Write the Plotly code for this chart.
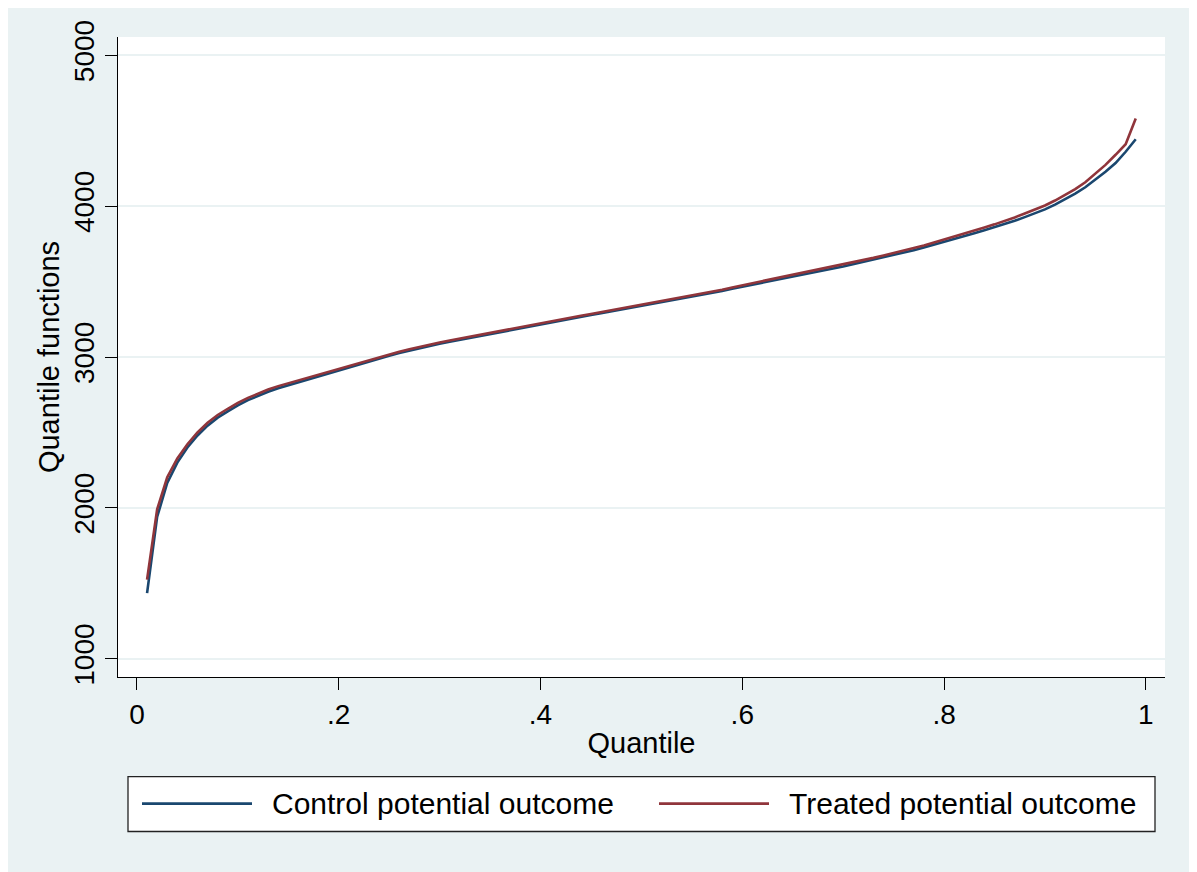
import plotly.graph_objects as go

quantiles = [round(0.01 * i, 2) for i in range(1, 100)]

control = [1435, 1940, 2165, 2300, 2400, 2480, 2545, 2598, 2640, 2680,
           2714, 2744, 2770, 2793, 2813, 2833, 2852, 2870, 2890, 2910,
           2930, 2950, 2970, 2990, 3008, 3026, 3042, 3058, 3074, 3088,
           3101, 3114, 3127, 3140, 3153, 3166, 3179, 3192, 3205, 3217,
           3229, 3242, 3254, 3266, 3278, 3290, 3302, 3315, 3328, 3341,
           3352, 3364, 3375, 3387, 3398, 3411, 3424, 3438, 3452, 3466,
           3479, 3492, 3505, 3518, 3531, 3545, 3559, 3573, 3587, 3600,
           3615, 3630, 3645, 3660, 3676, 3692, 3708, 3725, 3743, 3762,
           3781, 3800, 3820, 3840, 3860, 3880, 3903, 3927, 3950, 3978,
           4010, 4045, 4083, 4125, 4175, 4228, 4285, 4360, 4443]

treated = [1525, 1990, 2203, 2328, 2422, 2500, 2564, 2616, 2657, 2696,
           2729, 2759, 2784, 2807, 2826, 2846, 2864, 2882, 2902, 2921,
           2941, 2961, 2980, 3000, 3018, 3035, 3051, 3067, 3082, 3096,
           3109, 3122, 3134, 3147, 3160, 3173, 3186, 3199, 3212, 3224,
           3236, 3249, 3261, 3273, 3285, 3297, 3309, 3322, 3335, 3348,
           3359, 3372, 3383, 3395, 3406, 3419, 3432, 3446, 3461, 3475,
           3488, 3501, 3515, 3528, 3541, 3555, 3569, 3584, 3598, 3611,
           3627, 3642, 3657, 3673, 3689, 3705, 3722, 3739, 3758, 3777,
           3797, 3816, 3837, 3858, 3879, 3900, 3925, 3951, 3975, 4004,
           4037, 4073, 4113, 4158, 4213, 4273, 4340, 4410, 4581]

x_tickvals = [0, 0.2, 0.4, 0.6, 0.8, 1]
x_ticktext = ["0", ".2", ".4", ".6", ".8", "1"]
y_tickvals = [1000, 2000, 3000, 4000, 5000]
y_ticktext = ["1000", "2000", "3000", "4000", "5000"]
series_names = ["Control potential outcome", "Treated potential outcome"]

NAVY = "#1A476F"
MAROON = "#90353B"
BG = "#EAF2F3"
FONT = "Arial, Liberation Sans, sans-serif"

fig = go.Figure()
fig.add_trace(go.Scatter(x=quantiles, y=control, mode="lines", name=series_names[0],
                         line=dict(color=NAVY, width=2.6)))
fig.add_trace(go.Scatter(x=quantiles, y=treated, mode="lines", name=series_names[1],
                         line=dict(color=MAROON, width=2.6)))

# page body has an 8px margin, so the figure is sized/placed to compensate
fig.update_layout(
    width=1189, height=864,
    margin=dict(l=110, r=32, t=27, b=195),
    paper_bgcolor=BG, plot_bgcolor="white",
    showlegend=False,
    font=dict(family=FONT, color="black", size=28),
)
fig.update_xaxes(
    range=[-0.0188, 1.019], tickvals=x_tickvals, ticktext=x_ticktext,
    showgrid=False, zeroline=False, showline=True, linecolor="black", linewidth=1.3,
    ticks="outside", ticklen=12, tickwidth=1.3, tickcolor="black",
    tickfont=dict(size=28), ticklabelstandoff=0,
    title=dict(text="Quantile", font=dict(size=29), standoff=3),
)
fig.update_yaxes(
    range=[879.4, 5120.6], tickvals=y_tickvals, ticktext=y_ticktext,
    showgrid=True, gridcolor=BG, gridwidth=1.8, zeroline=False,
    showline=True, linecolor="black", linewidth=1.3,
    ticks="outside", ticklen=12, tickwidth=1.3, tickcolor="black",
    tickangle=-90, tickfont=dict(size=28), ticklabelstandoff=0,
    title=dict(text="Quantile functions", font=dict(size=29), standoff=0),
)

# Stata-style legend box below the plot (positions in plot-area pixels)
def px_x(p):
    return (p - 118) / 1047.0

def px_y(p):
    return (677 - p) / 642.0

fig.add_shape(type="rect", xref="paper", yref="paper",
              x0=px_x(128), x1=px_x(1155), y0=px_y(832), y1=px_y(777),
              line=dict(color="#222222", width=1.3), fillcolor="white")
legend_items = [(142, 252, 270, NAVY), (659, 769, 787, MAROON)]
for name, (lx0, lx1, tx, col) in zip(series_names, legend_items):
    fig.add_shape(type="line", xref="paper", yref="paper",
                  x0=px_x(lx0), x1=px_x(lx1), y0=px_y(804), y1=px_y(804),
                  line=dict(color=col, width=2.6))
    fig.add_annotation(xref="paper", yref="paper", x=px_x(tx), y=px_y(804),
                       text=name, showarrow=False, xanchor="left", yanchor="middle",
                       font=dict(size=30, color="black", family=FONT))

fig.write_html("out.html")
